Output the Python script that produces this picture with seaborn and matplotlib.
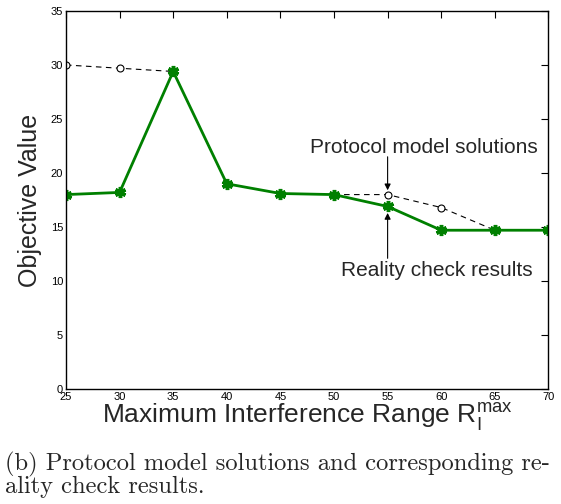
import pandas as pd
import seaborn as sns
import matplotlib.pyplot as plt

# valores
ranges = [25, 30, 35, 40, 45, 50, 55, 60, 65, 70]
protocol = [30.0, 29.7, 29.4, 19.0, 18.1, 18.0, 18.0, 16.8, 14.7, 14.7]
reality = [18.0, 18.2, 29.4, 19.0, 18.1, 18.0, 16.9, 14.7, 14.7, 14.7]
xticks = [25, 30, 35, 40, 45, 50, 55, 60, 65, 70]
yticks = [0, 5, 10, 15, 20, 25, 30, 35]

df = pd.DataFrame({"range": ranges, "protocol": protocol, "reality": reality})

sns.set_theme(style="white")
plt.rcParams['font.family'] = ['Liberation Sans', 'DejaVu Sans']

fig = plt.figure(figsize=(5.61, 5.04), dpi=100)
ax = fig.add_axes([0.1176, 0.2282, 0.860, 0.75])

sns.lineplot(data=df, x="range", y="protocol", ax=ax, color="black", linestyle="--",
             linewidth=0.8, marker="o", markersize=5, markerfacecolor="white",
             markeredgecolor="black", markeredgewidth=0.8)
ax.lines[-1].set_dashes([5, 4])
sns.lineplot(data=df, x="range", y="reality", ax=ax, color="#008000", linewidth=2,
             marker=(6, 2, 0), markersize=8, markeredgewidth=2.5, markeredgecolor="#008000")

ax.set_xlim(25, 70)
ax.set_ylim(0, 35)
ax.set_xticks(xticks)
ax.set_yticks(yticks)
ax.tick_params(direction="in", top=True, right=True, length=5, width=0.8,
               labelsize=8, colors="black", pad=2)
for s in ax.spines.values():
    s.set_color("black")
    s.set_linewidth(1)

ax.set_xlabel("Maximum Interference Range R$_\\mathregular{I}^\\mathregular{max}$", fontsize=19, labelpad=-1)
ax.set_ylabel("Objective Value", fontsize=18, labelpad=6)

# setas verticais e textos
arr = dict(arrowstyle="-|>", color="black", lw=0.8, shrinkA=0, shrinkB=0, mutation_scale=9)
ax.annotate("", xy=(55, 18.4), xytext=(55, 21.5), arrowprops=arr)
ax.annotate("", xy=(55, 16.3), xytext=(55, 12.1), arrowprops=arr)
ax.text(58.4, 22.4, "Protocol model solutions", ha="center", va="center", fontsize=15)
ax.text(59.6, 11.0, "Reality check results", ha="center", va="center", fontsize=15)

fig.text(0.009, 0.103, "(b) Protocol model solutions and corresponding re-\nality check results.",
         family=["cmr10", "DejaVu Serif"], fontsize=17.6, va="top", ha="left",
         linespacing=0.92)

fig.savefig("out.png", dpi=100, facecolor="white")
